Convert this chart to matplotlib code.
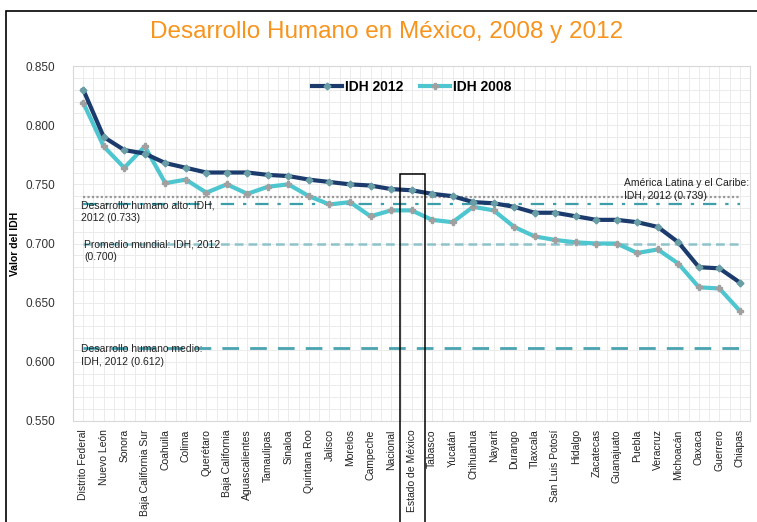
import numpy as np
import matplotlib.pyplot as plt
from matplotlib.patches import Rectangle

plt.rcParams['font.family'] = ['Liberation Sans', 'DejaVu Sans']

# states ordered by IDH 2012
estados = ["Distrito Federal", "Nuevo León", "Sonora", "Baja California Sur", "Coahuila",
           "Colima", "Querétaro", "Baja California", "Aguascalientes", "Tamaulipas",
           "Sinaloa", "Quintana Roo", "Jalisco", "Morelos", "Campeche", "Nacional",
           "Estado de México", "Tabasco", "Yucatán", "Chihuahua", "Nayarit", "Durango",
           "Tlaxcala", "San Luis Potosí", "Hidalgo", "Zacatecas", "Guanajuato", "Puebla",
           "Veracruz", "Michoacán", "Oaxaca", "Guerrero", "Chiapas"]
idh_2012 = [0.830, 0.790, 0.779, 0.776, 0.768, 0.764, 0.760, 0.760, 0.760, 0.758,
            0.757, 0.754, 0.752, 0.750, 0.749, 0.746, 0.745, 0.742, 0.740, 0.735,
            0.734, 0.731, 0.726, 0.726, 0.723, 0.720, 0.720, 0.718, 0.714, 0.701,
            0.680, 0.679, 0.667]
idh_2008 = [0.819, 0.782, 0.764, 0.782, 0.751, 0.754, 0.743, 0.750, 0.742, 0.748,
            0.750, 0.740, 0.733, 0.735, 0.723, 0.728, 0.728, 0.720, 0.718, 0.731,
            0.728, 0.714, 0.706, 0.703, 0.701, 0.700, 0.700, 0.692, 0.695, 0.683,
            0.663, 0.662, 0.643]

# reference levels
ref_values = [0.739, 0.733, 0.700, 0.612]
ref_labels = ["América Latina y el Caribe:\nIDH, 2012 (0.739)",
              "Desarrollo humano alto: IDH,\n2012 (0.733)",
              "Promedio mundial: IDH, 2012\n(0.700)",
              "Desarrollo humano medio:\nIDH, 2012 (0.612)"]

fig = plt.figure(figsize=(7.57, 5.22), dpi=100)
ax = fig.add_axes([0.0964, 0.1935, 0.8946, 0.680])

x = np.arange(len(estados))

# reference lines
ax.plot([0, 32], [ref_values[0]] * 2, color="#9a9a9a", lw=1.6, ls=(0, (1, 1)), zorder=2)
ax.plot([0, 32], [ref_values[1]] * 2, color="#3e9fab", lw=1.6, ls=(0, (6, 4, 1.5, 4)), zorder=2)
ax.plot([0, 32.1], [ref_values[2]] * 2, color="#8fc3cc", lw=1.8, ls=(0, (3.5, 2)), zorder=2)
ax.plot([0, 32.1], [ref_values[3]] * 2, color="#4aa3b0", lw=2.0, ls=(0, (6, 4)), zorder=2)

ax.plot(x, idh_2012, color="#1c3b6d", lw=3, marker="D", ms=3.5, mfc="#6a9ea6",
        mec="#6a9ea6", label="IDH 2012", zorder=4)
ax.plot(x, idh_2008, color="#4ec6cf", lw=3, marker="P", ms=5, mfc="#a0a0a0",
        mec="#a0a0a0", label="IDH 2008", zorder=3)

# reference texts
ax.text(26.35, 0.7455, ref_labels[0], fontsize=7.5, color="#222222", va="center", ha="left",
        linespacing=1.3, zorder=5)
ax.text(-0.1, 0.7265, ref_labels[1], fontsize=7.5, color="#222222", va="center", ha="left",
        linespacing=1.3, zorder=5)
ax.text(0.05, 0.6937, ref_labels[2], fontsize=7.5, color="#222222", va="center", ha="left",
        linespacing=1.3, zorder=5)
ax.text(-0.1, 0.6055, ref_labels[3], fontsize=7.5, color="#222222", va="center", ha="left",
        linespacing=1.3, zorder=5)

ax.set_xlim(-0.5, 32.45)
ax.set_ylim(0.550, 0.850)
ax.set_yticks(np.arange(0.55, 0.851, 0.05))
ax.set_yticklabels([f"{v:.3f}" for v in np.arange(0.55, 0.851, 0.05)], fontsize=8.5, color="#333333")
ax.set_yticks(np.arange(0.55, 0.851, 0.01), minor=True)
ax.set_xticks(x)
ax.set_xticklabels(estados, rotation=90, fontsize=7.5, color="#222222")
ax.set_xticks(np.arange(-0.5, 32.6, 0.5), minor=True)
ax.tick_params(axis="both", which="both", length=0)
ax.tick_params(axis="y", pad=13)
ax.tick_params(axis="x", pad=6)
ax.grid(True, which="both", color="#ebebeb", lw=0.7, zorder=0)
ax.set_axisbelow(True)
for sp in ax.spines.values():
    sp.set_color("#d8d8d8")
ax.set_ylabel("Valor del IDH", fontsize=7.5, fontweight="bold", labelpad=4)

leg = ax.legend(loc="upper center", bbox_to_anchor=(0.5, 0.995), ncol=2, frameon=False,
                fontsize=10, handlelength=2.2, columnspacing=1.2, handletextpad=0.2)
for t in leg.get_texts():
    t.set_fontweight("bold")

fig.text(0.511, 0.938, "Desarrollo Humano en México, 2008 y 2012", color="#f7941d",
         fontsize=17.5, ha="center", va="center")

# outer frame and highlight box
fig.patches.append(Rectangle((6 / 757, -0.05), 1.1, 1 - 11 / 522 + 0.05, transform=fig.transFigure,
                             fill=False, ec="black", lw=1.2))
fig.patches.append(Rectangle((400 / 757, -0.05), 25 / 757, 1 - 174 / 522 + 0.05,
                             transform=fig.transFigure, fill=False, ec="black", lw=1.1, zorder=10))

fig.savefig("out.png", dpi=100)
